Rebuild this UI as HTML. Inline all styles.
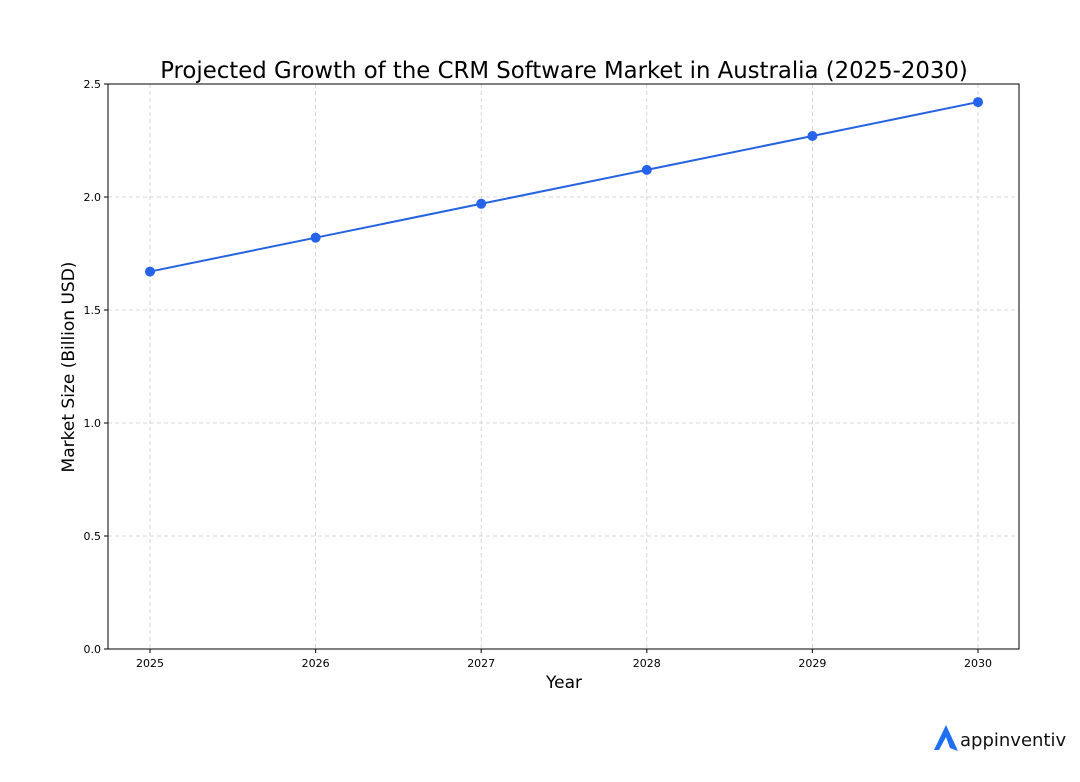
<!DOCTYPE html>
<html><head><meta charset="utf-8"><style>
body{margin:0;background:#fff;}
svg text{font-family:"DejaVu Sans","Liberation Sans",sans-serif;}
</style></head><body>
<svg id="chart" width="1080" height="777" xmlns="http://www.w3.org/2000/svg">
<rect width="1080" height="777" fill="#fff"/>
<text x="564" y="78" font-size="22.8" text-anchor="middle" fill="#000">Projected Growth of the CRM Software Market in Australia (2025-2030)</text>
<g id="grid"></g>
<g id="axes"></g>
<g id="series"></g>
<rect x="108" y="84" width="911" height="565" fill="none" stroke="#000" stroke-width="1"/>
<text x="564" y="688" font-size="17" text-anchor="middle">Year</text>
<text transform="translate(74,367) rotate(-90)" font-size="17" text-anchor="middle">Market Size (Billion USD)</text>
<g>
<path d="M934 750 L946 725 L958 751 L950 748 L946 737 L939 750 Z" fill="#1f6ff2"/>
<text x="960" y="746" font-size="18" fill="#111" font-family="Liberation Sans, sans-serif">appinventiv</text>
</g>
</svg>
<script>
const years=["2025","2026","2027","2028","2029","2030"];
const values=[1.67,1.82,1.97,2.12,2.27,2.42];
const yTicks=[0,0.5,1.0,1.5,2.0,2.5];
const yTickLabels=["0.0","0.5","1.0","1.5","2.0","2.5"];
const NS="http://www.w3.org/2000/svg";
const xs=i=>150+i*(978-150)/(years.length-1);
const ys=v=>649-v*(565/2.5);
function mk(t,a,p){const e=document.createElementNS(NS,t);for(const k in a)e.setAttribute(k,a[k]);p.appendChild(e);return e;}
const grid=document.getElementById('grid'),axes=document.getElementById('axes'),ser=document.getElementById('series');
years.forEach((y,i)=>{
 const g=mk('line',{x1:xs(i),x2:xs(i),y1:84,y2:649,stroke:'#ccc','stroke-dasharray':'4,3','stroke-width':0.8},grid);
 
 
 mk('line',{x1:xs(i),x2:xs(i),y1:649,y2:653,stroke:'#000'},axes);
 const t=mk('text',{x:xs(i),y:667,'font-size':11,'text-anchor':'middle'},axes);t.textContent=y;
 
 
});
yTicks.forEach((v,i)=>{
 const g=mk('line',{x1:108,x2:1019,y1:ys(v),y2:ys(v),stroke:'#ccc','stroke-dasharray':'4,3','stroke-width':0.8},grid);
 
 
 mk('line',{x1:104,x2:108,y1:ys(v),y2:ys(v),stroke:'#000'},axes);
 const t=mk('text',{x:101,y:ys(v)+4,'font-size':11,'text-anchor':'end'},axes);t.textContent=yTickLabels[i];
 
 
});
const pl=mk('polyline',{points:values.map((v,i)=>xs(i)+','+ys(v)).join(' '),fill:'none',stroke:'#2563e0','stroke-width':2},ser);


values.forEach((v,i)=>{
 const c=mk('circle',{cx:xs(i),cy:ys(v),r:5,fill:'#2563eb'},ser);
 
 
});
</script>
</body></html>
